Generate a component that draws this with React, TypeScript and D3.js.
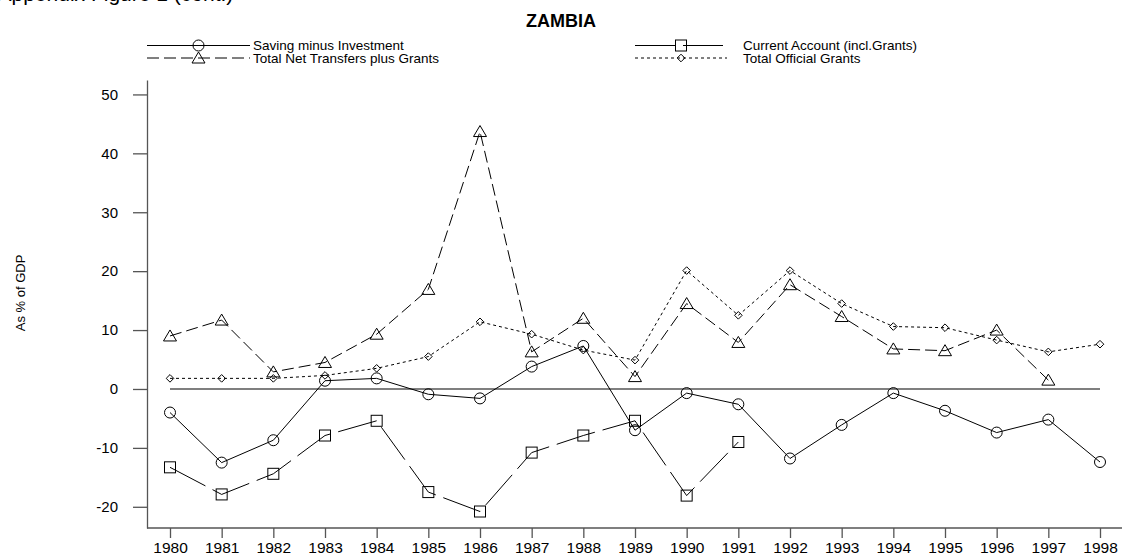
import { useEffect, useRef } from 'react';
import * as d3 from 'd3';

// Zambia: saving-investment gap, current account and transfers, % of GDP

const WIDTH = 1122;
const HEIGHT = 558;
const FONT = '"Liberation Sans", Arial, sans-serif';

const YEARS = [1980, 1981, 1982, 1983, 1984, 1985, 1986, 1987, 1988, 1989, 1990, 1991, 1992, 1993, 1994, 1995, 1996, 1997, 1998];
const SAVING_MINUS_INVESTMENT = [-4.0, -12.5, -8.7, 1.4, 1.8, -0.9, -1.6, 3.8, 7.3, -7.0, -0.7, -2.6, -11.8, -6.1, -0.7, -3.7, -7.4, -5.2, -12.4];
const CURRENT_ACCOUNT = [-13.3, -17.9, -14.4, -7.9, -5.4, -17.5, -20.8, -10.8, -7.9, -5.4, -18.1, -9.0, null, null, null, null, null, null, null];
const NET_TRANSFERS = [9.0, 11.7, 2.9, 4.5, 9.3, 16.9, 43.7, 6.3, 12.0, 2.1, 14.5, 7.9, 17.7, 12.3, 6.8, 6.5, 10.0, 1.5, null];
const OFFICIAL_GRANTS = [1.8, 1.8, 1.8, 2.3, 3.5, 5.5, 11.4, 9.3, 6.6, 4.9, 20.1, 12.5, 20.1, 14.5, 10.6, 10.4, 8.3, 6.3, 7.6];
const Y_TICKS = [-20, -10, 0, 10, 20, 30, 40, 50];

type Val = number | null;

const x = d3.scaleLinear().domain([1980, 1998]).range([170, 1100]);
const y = d3.scaleLinear().domain([-23.6, 52.45]).range([528, 80]);

const line = d3
  .line<Val>()
  .defined((d) => d != null)
  .x((_, i) => x(YEARS[i]))
  .y((d) => y(d as number));

function Marker({ kind, cx, cy }: { kind: string; cx: number; cy: number }) {
  const common = { fill: 'none', stroke: '#000', strokeWidth: 1 };
  if (kind === 'circle') return <circle cx={cx} cy={cy} r={5.5} {...common} />;
  if (kind === 'square') return <rect x={cx - 5.5} y={cy - 5.5} width={11} height={11} {...common} />;
  if (kind === 'triangle')
    return <path d={`M${cx},${cy - 6}L${cx - 6.5},${cy + 5}L${cx + 6.5},${cy + 5}Z`} {...common} />;
  return <path d={`M${cx},${cy - 3.8}L${cx + 3.8},${cy}L${cx},${cy + 3.8}L${cx - 3.8},${cy}Z`} {...common} />;
}

const SERIES = [
  { name: 'Saving minus Investment', values: SAVING_MINUS_INVESTMENT, marker: 'circle', dash: null },
  { name: 'Current Account (incl.Grants)', values: CURRENT_ACCOUNT, marker: 'square', dash: '40,8' },
  { name: 'Total Net Transfers plus Grants', values: NET_TRANSFERS, marker: 'triangle', dash: '12,5' },
  { name: 'Total Official Grants', values: OFFICIAL_GRANTS, marker: 'diamond', dash: '3,3' },
];

const LEGEND = [
  { s: 0, x0: 147, x1: 250, ly: 45.5 },
  { s: 1, x0: 635, x1: 727, ly: 45.5 },
  { s: 2, x0: 147, x1: 250, ly: 58 },
  { s: 3, x0: 635, x1: 727, ly: 58 },
];

export default function App() {
  const yAxisRef = useRef<SVGGElement>(null);
  const xAxisRef = useRef<SVGGElement>(null);

  useEffect(() => {
    const ya = d3.select(yAxisRef.current!);
    ya.call(
      d3.axisLeft(y).tickValues(Y_TICKS).tickFormat((d) => String(d)).tickSize(14).tickPadding(15).tickSizeOuter(0)
    );
    ya.select('.domain').attr('stroke', '#555').attr('stroke-width', 1.3);
    ya.selectAll('.tick line').attr('stroke', '#555').attr('stroke-width', 1.3);
    ya.selectAll('.tick text').attr('font-family', FONT).attr('font-size', 15).attr('fill', '#000');

    const xa = d3.select(xAxisRef.current!);
    xa.call(d3.axisBottom(x).tickValues(YEARS).tickFormat(d3.format('d')).tickSize(10).tickPadding(4).tickSizeOuter(0));
    xa.select('.domain').remove();
    xa.selectAll('.tick line').attr('stroke', '#555').attr('stroke-width', 1.3);
    xa.selectAll('.tick text').attr('font-family', FONT).attr('font-size', 15.5).attr('fill', '#000');
  }, []);

  return (
    <div style={{ position: 'absolute', left: 0, top: 0 }}>
      <svg width={WIDTH} height={HEIGHT} viewBox={`0 0 ${WIDTH} ${HEIGHT}`} style={{ display: 'block', background: '#fff' }}>
        <text x={-2.5} y={0.5} fontFamily={FONT} fontSize={21}>Appendix Figure 1 (cont.)</text>
        <text x={WIDTH / 2} y={27} textAnchor="middle" fontFamily={FONT} fontSize={18} fontWeight="bold">ZAMBIA</text>

        {LEGEND.map((l) => {
          const s = SERIES[l.s];
          return (
            <g key={s.name}>
              <line x1={l.x0} x2={l.x1} y1={l.ly} y2={l.ly} stroke="#000" strokeWidth={1} strokeDasharray={s.dash ?? undefined} />
              <Marker kind={s.marker} cx={(l.x0 + l.x1) / 2} cy={l.ly} />
              <text x={l.x1 + (l.s % 2 ? 16 : 3)} y={l.ly + 4.5} fontFamily={FONT} fontSize={13.5}>{s.name}</text>
            </g>
          );
        })}

        <text transform="translate(25,293) rotate(-90)" textAnchor="middle" fontFamily={FONT} fontSize={13}>
          As % of GDP
        </text>

        <g ref={yAxisRef} transform="translate(147,0)" />
        <line x1={147} x2={WIDTH} y1={528} y2={528} stroke="#555" strokeWidth={1.3} />
        <g ref={xAxisRef} transform="translate(0,528)" />

        <line x1={x(1980)} x2={x(1998)} y1={y(0)} y2={y(0)} stroke="#555" strokeWidth={1.5} />

        {SERIES.map((s) => (
          <g key={s.name}>
            <path d={line(s.values) ?? ''} fill="none" stroke="#000" strokeWidth={1} strokeDasharray={s.dash ?? undefined} />
            {s.values.map((v, i) =>
              v == null ? null : <Marker key={i} kind={s.marker} cx={x(YEARS[i])} cy={y(v)} />
            )}
          </g>
        ))}
      </svg>
    </div>
  );
}
